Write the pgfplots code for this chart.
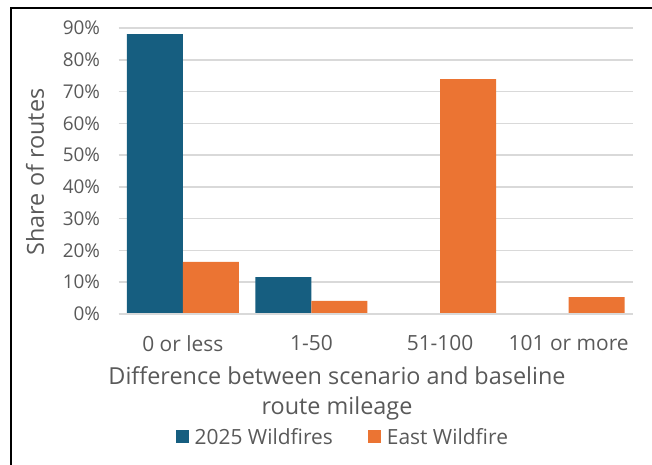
\documentclass[border=0pt]{standalone}
\usepackage{fontspec}
\setmainfont{Open Sans}
\usepackage{pgfplots}
\pgfplotsset{compat=1.18}
\definecolor{cblue}{HTML}{165E80}
\definecolor{corange}{HTML}{EB7433}
\definecolor{ctext}{HTML}{595959}
\definecolor{cgrid}{HTML}{D9D9D9}
\begin{document}
\begin{tikzpicture}
\useasboundingbox (0,0) rectangle (652bp,465bp);
\draw[line width=1.6bp] (11bp,0) -- (11bp,457bp) -- (652bp,457bp);
\begin{axis}[
  at={(118.5bp,151bp)}, anchor=south west,
  scale only axis, width=514.5bp, height=286bp,
  ybar, bar width=56bp,
  ymin=0, ymax=90, ytick={0,10,...,90},
  xmin=-0.5, xmax=3.5,
  xtick={0,1,2,3},
  xticklabels={0 or less,1-50,51-100,101 or more},
  /pgf/number format/assume math mode=true,
  yticklabel={\pgfmathprintnumber{\tick}\%},
  axis line style={draw=none},
  ymajorgrids, grid style={cgrid, line width=1.5bp},
  major tick length=0pt,
  yticklabel style={font=\fontsize{19}{22}\selectfont, text=ctext, xshift=-15bp},
  xticklabel style={font=\fontsize{21}{24}\selectfont, text=ctext, yshift=-18bp},
  xlabel={Difference between scenario and baseline\\route mileage},
  xlabel style={align=center, font=\fontsize{23.5}{30}\selectfont, text=ctext,
    at={(axis description cs:0.4247,-0.276)}, anchor=center},
  ylabel={Share of routes},
  ylabel style={font=\fontsize{23.5}{26}\selectfont, text=ctext,
    at={(axis description cs:-0.1623,0.4965)}, anchor=center, rotate=0},
  legend style={at={(axis description cs:0.436,-0.43)}, anchor=center,
    draw=none, fill=none, legend columns=2,
    font=\fontsize{21}{24}\selectfont, text=ctext,
    /tikz/every even column/.append style={column sep=33bp}},
  legend image code/.code={\fill[#1] (0bp,-6.5bp) rectangle (13bp,6.5bp); \path (17bp,0);},
]
\addplot[fill=cblue, draw=none, bar shift=-28bp] coordinates {(0,88.1) (1,11.6) (2,0) (3,0)};
\addplot[fill=corange, draw=none, bar shift=28bp] coordinates {(0,16.4) (1,4.1) (2,73.9) (3,5.3)};
\draw[cgrid, line width=1.5bp] (axis cs:-0.5,0) -- (axis cs:3.5,0);
\legend{2025 Wildfires, East Wildfire}
\end{axis}
\end{tikzpicture}
\end{document}
